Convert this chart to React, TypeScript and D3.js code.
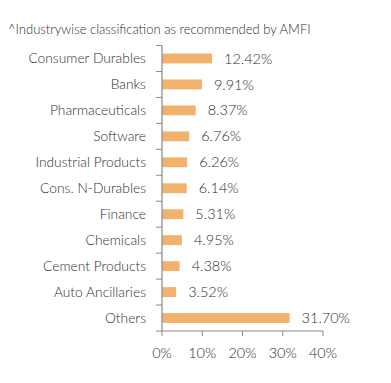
import React from "react";
import * as d3 from "d3";

const categories = [
  "Consumer Durables",
  "Banks",
  "Pharmaceuticals",
  "Software",
  "Industrial Products",
  "Cons. N-Durables",
  "Finance",
  "Chemicals",
  "Cement Products",
  "Auto Ancillaries",
  "Others",
];
const values = [12.42, 9.91, 8.37, 6.76, 6.26, 6.14, 5.31, 4.95, 4.38, 3.52, 31.7];
const xTicks = [0, 10, 20, 30, 40];
const title = "^Industrywise classification as recommended by AMFI";

export default function App() {
  const W = 391, H = 383;
  const left = 162, right = 323, top = 45.5, bottom = 331;
  const x = d3.scaleLinear().domain([0, 40]).range([left, right]);
  const y = d3.scaleBand<string>().domain(categories).range([top, bottom]).paddingInner(0.62).paddingOuter(0.31);
  const step = y.step();
  const font = "Lato, sans-serif";
  const axisColor = "#8a8a8a";
  const textColor = "#2e2e2e";
  return (
    <svg width={W} height={H} style={{ position: "absolute", left: 0, top: 0 }}>
      <rect width={W} height={H} fill="#fff" />
      <text x={8} y={34} fontFamily={font} fontWeight={300} fontSize={13} fill={textColor}>{title}</text>
      {categories.map((c, i) => (
        <g key={c}>
          <rect x={x(0)} y={y(c)!} width={x(values[i]) - x(0)} height={y.bandwidth()} fill="#F0B26C" />
          <text x={x(values[i]) + 12} y={y(c)! + y.bandwidth() / 2} dy="0.35em" fontFamily={font} fontWeight={300} fontSize={14.5} fill={textColor}>
            {values[i].toFixed(2) + "%"}
          </text>
          <text x={146} y={y(c)! + y.bandwidth() / 2} dy="0.35em" textAnchor="end" fontFamily={font} fontWeight={300} fontSize={13.8} fill={textColor}>
            {c}
          </text>
        </g>
      ))}
      {d3.range(categories.length + 1).map((i) => (
        <line key={i} x1={left - 6} x2={left} y1={top + i * step} y2={top + i * step} stroke={axisColor} strokeWidth={1} />
      ))}
      <line x1={left} x2={left} y1={top} y2={bottom} stroke={axisColor} strokeWidth={1.2} />
      <line x1={left} x2={right} y1={bottom} y2={bottom} stroke={axisColor} strokeWidth={1.2} />
      {xTicks.map((t) => (
        <g key={t}>
          <line x1={x(t)} x2={x(t)} y1={bottom} y2={bottom + 5} stroke={axisColor} strokeWidth={1} />
          <text x={x(t)} y={358} textAnchor="middle" fontFamily={font} fontWeight={300} fontSize={14.5} fill={textColor}>{t + "%"}</text>
        </g>
      ))}
    </svg>
  );
}
